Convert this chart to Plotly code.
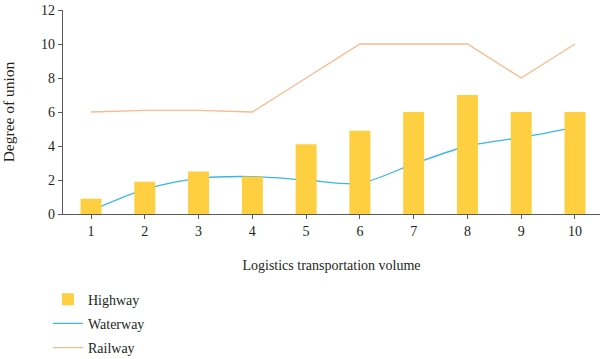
import plotly.graph_objects as go

categories = [1, 2, 3, 4, 5, 6, 7, 8, 9, 10]
highway = [0.9, 1.9, 2.5, 2.2, 4.1, 4.9, 6.0, 7.0, 6.0, 6.0]
waterway = [0.2, 1.45, 2.1, 2.2, 2.0, 1.8, 2.95, 4.0, 4.5, 5.1]
railway = [6.0, 6.1, 6.1, 6.0, 8.0, 10.0, 10.0, 10.0, 8.0, 10.0]
y_ticks = [0, 2, 4, 6, 8, 10, 12]

FONT = "Liberation Serif"
TXT = "#231f20"
AX = "#5a5a5a"

fig = go.Figure()
fig.add_trace(go.Scatter(x=categories, y=waterway, name="Waterway", mode="lines",
                         line=dict(color="#3cb6e6", width=1.3, shape="spline", smoothing=0.8),
                         legendrank=2, legendgroup="w"))
fig.add_trace(go.Scatter(x=categories, y=railway, name="Railway", mode="lines",
                         line=dict(color="#f9ba8c", width=1.3), legendrank=3, legendgroup="r"))
fig.add_trace(go.Bar(x=categories, y=highway, name="Highway", marker=dict(color="#fdcf41", line=dict(width=0)),
                     width=0.39, xaxis="x2", yaxis="y2", legendrank=1, legendgroup="h"))

xr = [0.479, 10.465]
yr = [0, 12]
fig.update_layout(
    width=600, height=359,
    margin=dict(l=63, r=0, t=10, b=145, autoexpand=False),
    plot_bgcolor="white", paper_bgcolor="white",
    font=dict(family=FONT, size=14, color=TXT),
    showlegend=True,
    legend=dict(x=-0.028, y=-0.537, xanchor="left", yanchor="middle",
                font=dict(size=14, family=FONT, color=TXT), itemwidth=30, tracegroupgap=3,
                bgcolor="rgba(0,0,0,0)"),
    xaxis=dict(range=xr, tickvals=categories, ticktext=[str(c) for c in categories],
               showgrid=False, zeroline=False, showline=True, linecolor=AX, linewidth=1.2,
               ticks="outside", ticklen=4, tickcolor=AX, tickfont=dict(size=14), automargin=False,
               title=dict(text="Logistics transportation volume", font=dict(size=14), standoff=22)),
    yaxis=dict(range=yr, tickvals=y_ticks, showgrid=False, zeroline=False, showline=True,
               linecolor=AX, linewidth=1.2, ticks="outside", ticklen=4, tickcolor=AX,
               tickfont=dict(size=14), automargin=False,
               title=dict(text="Degree of union", font=dict(size=15.5), standoff=23)),
    xaxis2=dict(range=xr, overlaying="x", visible=False),
    yaxis2=dict(range=yr, overlaying="y", visible=False),
)

fig.write_html("out.html", config={"displayModeBar": False},
               post_script="document.body.style.margin='0';document.body.style.overflow='hidden';")
